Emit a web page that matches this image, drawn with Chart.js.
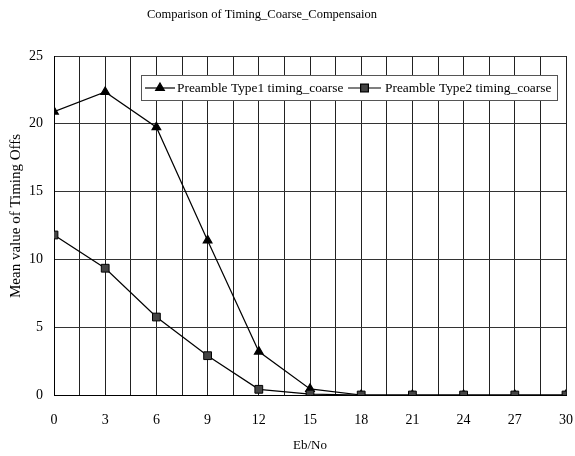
<!DOCTYPE html>
<html>
<head>
<meta charset="utf-8">
<script src="https://cdn.jsdelivr.net/npm/chart.js@4.4.0/dist/chart.umd.min.js"></script>
<style>
  html, body { margin: 0; padding: 0; background: #fff; }
  #wrap { width: 575px; height: 456px; position: relative; }
</style>
</head>
<body>
<div id="wrap"><canvas id="timingChart"></canvas></div>
<script>
// data
const ebNo = [0, 3, 6, 9, 12, 15, 18, 21, 24, 27, 30];
const type1Values = [20.9, 22.35, 19.75, 11.4, 3.2, 0.45, 0, 0, 0, 0, 0];
const type2Values = [11.8, 9.35, 5.75, 2.9, 0.42, 0.07, 0, 0, 0, 0, 0];
const seriesNames = ["Preamble Type1 timing_coarse", "Preamble Type2 timing_coarse"];
const chartTitle = "Comparison of Timing_Coarse_Compensaion";
const xTitle = "Eb/No";
const yTitle = "Mean value of Timing Offs";

const serif = "'Liberation Serif', 'DejaVu Serif', serif";

function toPoints(vals) {
    return ebNo.map((x, i) => ({ x: x, y: vals[i] }));
}

// white page + title + rotated y title + boxed legend
const decorations = {
    id: "decorations",
    beforeDraw(chart) {
        const c = chart.ctx;
        c.save();
        c.fillStyle = "#fff";
        c.fillRect(0, 0, chart.width, chart.height);
        c.restore();
    },
    afterDraw(chart) {
        const c = chart.ctx;
        c.save();
        c.fillStyle = "#000";
        c.textBaseline = "middle";

        // title
        c.font = "12.5px " + serif;
        c.textAlign = "center";
        c.fillText(chartTitle, 262, 15);

        // y title
        c.save();
        c.translate(16, 298);
        c.rotate(-Math.PI / 2);
        c.font = "15px " + serif;
        c.textAlign = "left";
        c.fillText(yTitle, 0, 0);
        c.restore();

        // legend box
        c.fillStyle = "#fff";
        c.fillRect(141, 75, 416, 25);
        c.strokeStyle = "#555";
        c.lineWidth = 1;
        c.strokeRect(141.5, 75.5, 416, 25);

        const entries = [
            { x0: 145, x1: 175, tx: 177, style: "triangle", fill: "#000" },
            { x0: 348, x1: 381, tx: 385, style: "rect", fill: "#444" }
        ];
        entries.forEach((e, i) => {
            const ly = 88;
            c.strokeStyle = "#000";
            c.lineWidth = 1.2;
            c.beginPath();
            c.moveTo(e.x0, ly);
            c.lineTo(e.x1, ly);
            c.stroke();
            c.fillStyle = e.fill;
            Chart.helpers.drawPoint(c, { pointStyle: e.style, radius: e.style === "rect" ? 5.5 : 5, borderWidth: 1 },
                (e.x0 + e.x1) / 2, ly);
            c.fillStyle = "#000";
            c.font = "13.4px " + serif;
            c.textAlign = "left";
            c.fillText(seriesNames[i], e.tx, ly);
        });
        c.restore();
    }
};

const ctx = document.getElementById("timingChart");
new Chart(ctx, {
    type: "line",
    data: {
        datasets: [{
            label: seriesNames[0],
            data: toPoints(type1Values),
            borderColor: "#000",
            backgroundColor: "#000",
            borderWidth: 1.2,
            pointStyle: "triangle",
            pointRadius: 5,
            pointBorderColor: "#000",
            pointBackgroundColor: "#000",
            tension: 0,
            order: 2
        }, {
            label: seriesNames[1],
            data: toPoints(type2Values),
            borderColor: "#000",
            backgroundColor: "#444",
            borderWidth: 1.2,
            pointStyle: "rect",
            pointRadius: 5.5,
            pointBorderColor: "#000",
            pointBorderWidth: 1,
            pointBackgroundColor: "#444",
            tension: 0,
            order: 1
        }]
    },
    options: {
        responsive: true,
        maintainAspectRatio: false,
        animation: false,
        layout: { padding: { top: 56, right: 9, left: 0, bottom: 0 } },
        plugins: {
            legend: { display: false },
            title: { display: false },
            tooltip: { enabled: false }
        },
        scales: {
            x: {
                type: "linear",
                min: 0,
                max: 30,
                afterFit: (s) => { s.height = 61; s.paddingRight = 0; s.paddingLeft = 0; },
                grid: { color: "#222", lineWidth: 1, drawTicks: false },
                border: { color: "#000", width: 1 },
                ticks: {
                    stepSize: 1.5,
                    autoSkip: false,
                    maxRotation: 0,
                    padding: 17,
                    color: "#000",
                    font: { family: serif, size: 14 },
                    callback: (v) => Math.abs(v / 3 - Math.round(v / 3)) < 1e-6 ? String(Math.round(v)) : ""
                },
                title: {
                    display: true,
                    text: xTitle,
                    color: "#000",
                    font: { family: serif, size: 13 },
                    padding: { top: 0, bottom: 3 }
                }
            },
            y: {
                min: 0,
                max: 25,
                afterFit: (s) => { s.width = 54; },
                grid: { color: "#333", lineWidth: 1, drawTicks: false },
                border: { color: "#000", width: 1 },
                ticks: {
                    stepSize: 5,
                    padding: 11,
                    color: "#000",
                    font: { family: serif, size: 14 }
                }
            }
        }
    },
    plugins: [decorations]
});
</script>
</body>
</html>
